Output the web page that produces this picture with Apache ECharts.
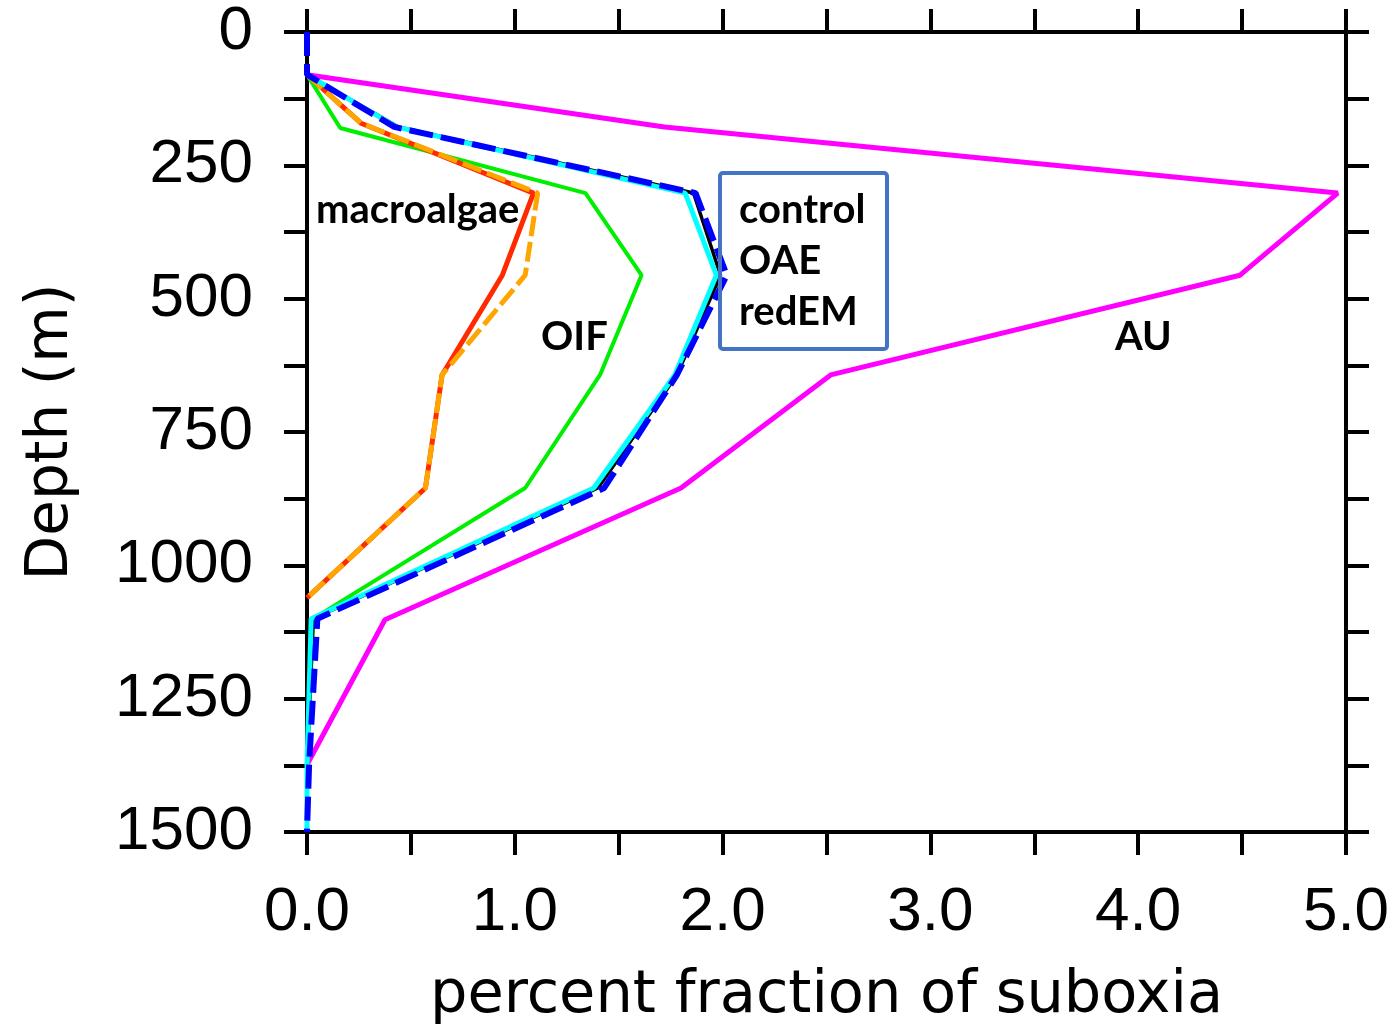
<!DOCTYPE html>
<html>
<head>
<meta charset="utf-8">
<script src="https://cdn.jsdelivr.net/npm/echarts@6/dist/echarts.min.js"></script>
<style>
  html, body { margin: 0; padding: 0; background: #fff; }
  #box { width: 1397px; height: 1025px; }
</style>
</head>
<body>
<div id="box"></div>
<script>
// depth levels (m) and percent fraction of suboxia
const depthAU = [80, 178, 302, 456, 643, 855, 1102, 1374];
const valAU = [0, 1.72, 4.96, 4.49, 2.52, 1.80, 0.375, 0];

const depthOIF = [80, 180, 302, 456, 643, 855, 1100, 1374, 1500];
const valOIF = [0, 0.16, 1.34, 1.61, 1.41, 1.05, 0.03, 0, 0];

const depthMacro = [80, 171, 302, 456, 643, 855, 1061];
const valMacroRed = [0, 0.26, 1.09, 0.94, 0.65, 0.57, 0];
const valMacroOrange = [0, 0.26, 1.11, 1.05, 0.65, 0.57, 0];

const depthCtl = [80, 178, 302, 456, 643, 855, 1100, 1374, 1500];
const valControl = [0, 0.44, 1.86, 1.99, 1.78, 1.40, 0.03, 0, 0];
const valOAE = [0, 0.43, 1.82, 1.97, 1.77, 1.38, 0.02, 0, 0];

const depthRedEM = [0, 80, 178, 302, 456, 643, 855, 1100, 1374, 1500];
const valRedEM = [0, 0, 0.42, 1.87, 2.02, 1.78, 1.43, 0.05, 0.01, 0];

function pairs(vals, depths) {
  return vals.map((v, i) => [v, depths[i]]);
}

const black = '#000';
const tickFont = 'Liberation Sans, Arial, sans-serif';
const noteFont = 'bold 40px Lato, sans-serif';

function axisCommon(extra) {
  return Object.assign({
    type: 'value',
    axisLine: { show: true, onZero: false, lineStyle: { color: black, width: 4 } },
    axisTick: { show: true, inside: false, length: 23, lineStyle: { color: black, width: 4 } },
    splitLine: { show: false }
  }, extra);
}

let myChart = echarts.init(document.getElementById('box'));
var option = {
  backgroundColor: '#fff',
  animation: false,
  grid: { left: 307, top: 32, right: 51, bottom: 193, containLabel: false, outerBoundsMode: 'none' },
  xAxis: [
    axisCommon({
      position: 'bottom', min: 0, max: 5, interval: 0.5,
      name: 'percent fraction of suboxia', nameLocation: 'middle', nameGap: 135,
      nameTextStyle: { fontFamily: 'DejaVu Sans', fontSize: 59, color: black },
      axisLabel: {
        margin: 50, fontFamily: tickFont, fontSize: 62, color: black,
        formatter: v => (Math.abs(v - Math.round(v)) < 1e-6 ? v.toFixed(1) : '')
      }
    }),
    axisCommon({
      position: 'top', min: 0, max: 5, interval: 0.5,
      axisLabel: { show: false }
    })
  ],
  yAxis: [
    axisCommon({
      position: 'left', min: 0, max: 1500, interval: 125, inverse: true,
      name: 'Depth (m)', nameLocation: 'middle', nameGap: 226,
      nameTextStyle: { fontFamily: 'DejaVu Sans', fontSize: 58, color: black },
      axisLabel: {
        margin: 54, fontFamily: tickFont, fontSize: 62, color: black,
        formatter: v => (v % 250 === 0 ? String(v) : '')
      }
    }),
    axisCommon({
      position: 'right', min: 0, max: 1500, interval: 125, inverse: true,
      axisLabel: { show: false }
    })
  ],
  series: [
    {
      name: 'AU', type: 'line', symbol: 'none',
      lineStyle: { color: '#ff00ff', width: 5 },
      data: pairs(valAU, depthAU)
    },
    {
      name: 'OIF', type: 'line', symbol: 'none',
      lineStyle: { color: '#00ee00', width: 4 },
      data: pairs(valOIF, depthOIF)
    },
    {
      name: 'macroalgae', type: 'line', symbol: 'none',
      lineStyle: { color: '#ff2a00', width: 5 },
      data: pairs(valMacroRed, depthMacro)
    },
    {
      name: 'macroalgae2', type: 'line', symbol: 'none',
      lineStyle: { color: '#ffa500', width: 5, type: [20, 6] },
      data: pairs(valMacroOrange, depthMacro)
    },
    {
      name: 'control', type: 'line', symbol: 'none',
      lineStyle: { color: black, width: 3.5 },
      data: pairs(valControl, depthCtl)
    },
    {
      name: 'OAE', type: 'line', symbol: 'none',
      lineStyle: { color: '#00ffff', width: 5 },
      data: pairs(valOAE, depthCtl)
    },
    {
      name: 'redEM', type: 'line', symbol: 'none',
      lineStyle: { color: '#0000ff', width: 6, type: [24, 8] },
      data: pairs(valRedEM, depthRedEM)
    }
  ],
  graphic: [
    {
      type: 'rect', left: 718, top: 171, z: 100,
      shape: { width: 167, height: 176, r: 3 },
      style: { fill: 'rgba(0,0,0,0)', stroke: '#4472c4', lineWidth: 4 }
    },
    { type: 'text', left: 316, top: 190, z: 100, style: { text: 'macroalgae', font: noteFont, fill: black } },
    { type: 'text', left: 739, top: 190, z: 100, style: { text: 'control', font: noteFont, fill: black } },
    { type: 'text', left: 739, top: 241, z: 100, style: { text: 'OAE', font: noteFont, fill: black } },
    { type: 'text', left: 739, top: 292, z: 100, style: { text: 'redEM', font: noteFont, fill: black } },
    { type: 'text', left: 541, top: 317, z: 100, style: { text: 'OIF', font: noteFont, fill: black } },
    { type: 'text', left: 1115, top: 317, z: 100, style: { text: 'AU', font: noteFont, fill: black } }
  ]
};
myChart.setOption(option);
</script>
</body>
</html>
